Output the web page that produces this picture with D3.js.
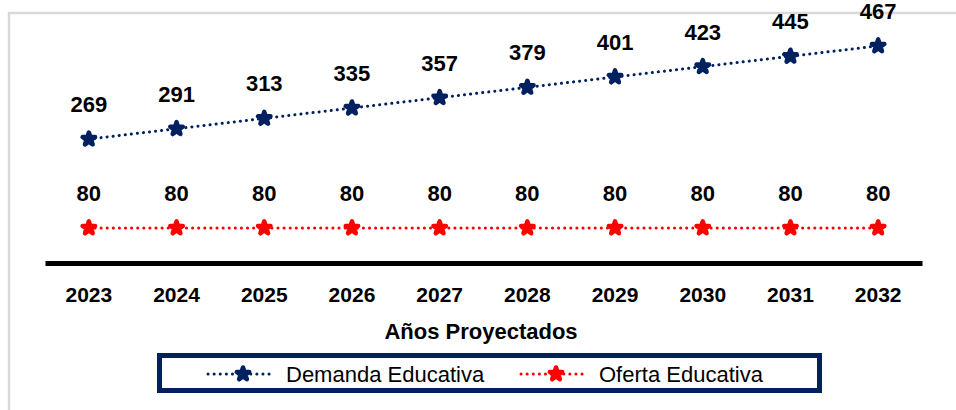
<!DOCTYPE html>
<html>
<head>
<meta charset="utf-8">
<script src="https://cdn.jsdelivr.net/npm/d3@7.9.0/dist/d3.min.js"></script>
<style>
  body { margin: 0; background: #fff; }
  svg { display: block; font-family: "Liberation Sans", Arial, sans-serif; }
</style>
</head>
<body>
<script>
// Chart data
const years = ["2023", "2024", "2025", "2026", "2027", "2028", "2029", "2030", "2031", "2032"];
const demanda = [269, 291, 313, 335, 357, 379, 401, 423, 445, 467];
const oferta = [80, 80, 80, 80, 80, 80, 80, 80, 80, 80];
const seriesNames = ["Demanda Educativa", "Oferta Educativa"];
const xTitle = "Años Proyectados";

const width = 956, height = 410;
const navy = "#002060", red = "#ff0000";

const svg = d3.select("body").append("svg")
    .attr("width", width)
    .attr("height", height);

// light grey frame of the original picture
svg.append("path")
    .attr("d", `M9,${height + 5}V13H${width + 5}`)
    .attr("fill", "none")
    .attr("stroke", "#d9d9d9")
    .attr("stroke-width", 2.5);

// Scales
const x = d3.scaleBand().domain(years).range([45, 922]);
const y = d3.scaleLinear().domain([0, 500]).range([265.6, 30.4]);
const cx = d => x(d) + x.bandwidth() / 2;

const series = [
    { name: seriesNames[0], values: demanda, color: navy },
    { name: seriesNames[1], values: oferta, color: red }
];

// X axis (thick black baseline, bold year labels)
const xAxis = svg.append("g")
    .attr("transform", `translate(0,${y(0) - 2.5})`)
    .call(d3.axisBottom(x).tickSize(0).tickPadding(24));
xAxis.select(".domain").attr("stroke", "#000").attr("stroke-width", 5);
xAxis.selectAll("text")
    .attr("fill", "#000")
    .style("font-family", "'Liberation Sans', Arial, sans-serif")
    .style("font-size", "21px")
    .style("font-weight", "bold");

svg.append("text")
    .attr("x", 481)
    .attr("y", 339)
    .attr("text-anchor", "middle")
    .style("font-size", "22px")
    .style("font-weight", "bold")
    .text(xTitle);

const line = d3.line()
    .x((d, i) => cx(years[i]))
    .y(d => y(d));

// blobby star markers like the spreadsheet's
const marker = d3.symbol().type(d3.symbolStar).size(48);

series.forEach(s => {
    const g = svg.append("g");
    g.append("path")
        .datum(s.values)
        .attr("d", line)
        .attr("fill", "none")
        .attr("stroke", s.color)
        .attr("stroke-width", 3)
        .attr("stroke-linecap", "round")
        .attr("stroke-dasharray", "0.1 6");

    g.selectAll("path.pt")
        .data(s.values)
        .enter().append("path")
        .attr("class", "pt")
        .attr("d", marker)
        .attr("transform", (d, i) => `translate(${cx(years[i])},${y(d)})`)
        .attr("fill", s.color)
        .attr("stroke", s.color)
        .attr("stroke-width", 4.5)
        .attr("stroke-linejoin", "round");

    g.selectAll("text.lbl")
        .data(s.values)
        .enter().append("text")
        .attr("class", "lbl")
        .attr("x", (d, i) => cx(years[i]))
        .attr("y", d => y(d) - 27)
        .attr("text-anchor", "middle")
        .style("font-size", "22px")
        .style("font-weight", "bold")
        .text(d => d);
});

// Legend
const legend = svg.append("g");
legend.append("rect")
    .attr("x", 159.5)
    .attr("y", 355.5)
    .attr("width", 660)
    .attr("height", 35)
    .attr("fill", "#fff")
    .attr("stroke", navy)
    .attr("stroke-width", 5);

const legendX = [208, 521];
series.forEach((s, i) => {
    const lg = legend.append("g").attr("transform", `translate(${legendX[i]},374)`);
    lg.append("line")
        .attr("x1", 0).attr("x2", 66)
        .attr("stroke", s.color)
        .attr("stroke-width", 3)
        .attr("stroke-linecap", "round")
        .attr("stroke-dasharray", "0.1 6");
    lg.append("path")
        .attr("d", marker)
        .attr("transform", "translate(35,0)")
        .attr("fill", s.color)
        .attr("stroke", s.color)
        .attr("stroke-width", 4.5)
        .attr("stroke-linejoin", "round");
    lg.append("text")
        .attr("x", 78)
        .attr("y", 7.5)
        .style("font-size", "22px")
        .text(s.name);
});
</script>
</body>
</html>
